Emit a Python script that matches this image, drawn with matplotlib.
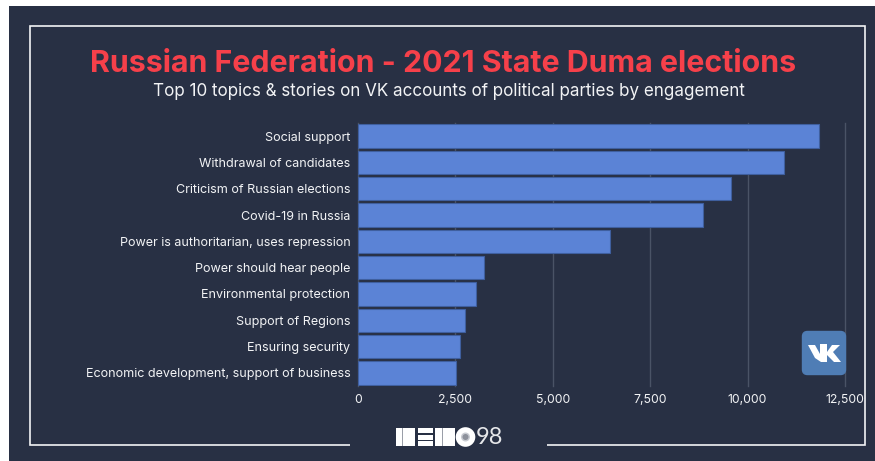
import matplotlib
matplotlib.use("Agg")
import matplotlib.pyplot as plt
from matplotlib.patches import Rectangle, FancyBboxPatch, Circle, Polygon

categories = ["Social support", "Withdrawal of candidates", "Criticism of Russian elections",
              "Covid-19 in Russia", "Power is authoritarian, uses repression", "Power should hear people",
              "Environmental protection", "Support of Regions", "Ensuring security",
              "Economic development, support of business"]
values = [11830, 10930, 9570, 8850, 6470, 3230, 3030, 2750, 2620, 2510]
ticks = [0, 2500, 5000, 7500, 10000, 12500]
title = "Russian Federation - 2021 State Duma elections"
subtitle = "Top 10 topics & stories on VK accounts of political parties by engagement"

W, H = 875, 461
BG, FG = "#283044", "#f2f3f5"
plt.rcParams["font.family"] = ["Inter", "DejaVu Sans"]
fig = plt.figure(figsize=(W/100, H/100), dpi=100, facecolor="white")

# overlay in pixel coordinates
ov = fig.add_axes([0, 0, 1, 1])
ov.set_xlim(0, W); ov.set_ylim(H, 0); ov.axis("off")
ov.add_patch(Rectangle((9, 6), W-9, H-6, fc=BG, ec="none"))
ov.plot([350, 30, 30, 865, 865, 547], [445, 445, 26, 26, 445, 445], color=FG, lw=1.2,
        solid_capstyle="butt", solid_joinstyle="miter")
ov.text(443.5, 64, title, color="#f6404a", fontsize=21.85, fontweight="bold", ha="center", va="center")
ov.text(448.5, 91, subtitle, color=FG, fontsize=12.25, ha="center", va="center")

# main axes
ax = fig.add_axes([358/W, 1-386/H, (845-358)/W, (386-123)/H], facecolor="none")
ax.barh(categories, values, height=0.89, color="#5b83d6", edgecolor="#3f5f9f", linewidth=0.8, zorder=3)
ax.set_xlim(0, 12500)
ax.set_ylim(9.5, -0.5)
ax.set_xticks(ticks, [f"{t:,}" for t in ticks])
ax.grid(axis="x", color="#4a5366", lw=1, zorder=0, clip_on=False)
ax.tick_params(axis="x", length=0, colors=FG, labelsize=8.8, pad=6)
ax.tick_params(axis="y", length=0, colors=FG, labelsize=9.05, pad=5.5)
for s in ax.spines.values():
    s.set_visible(False)

# VK badge
ov2 = fig.add_axes([0, 0, 1, 1], facecolor="none", zorder=5)
ov2.set_xlim(0, W); ov2.set_ylim(H, 0); ov2.axis("off")
ov2.add_patch(FancyBboxPatch((802.5, 331.5), 43, 43, boxstyle="round,pad=0,rounding_size=5", fc="#4f7db5", ec="#4f7db5", lw=1))
ov2.add_patch(Polygon([(808, 345), (815, 345), (820, 354), (820, 344), (827, 344), (827, 352), (832, 345),
                       (840, 345), (833, 352), (841, 362), (834, 362), (827, 355), (827, 362), (821, 362), (815, 358)],
                      fc="white", ec="none"))

# memo98 logo
ov2.add_patch(Rectangle((395.5, 428), 19.5, 18, fc="white", ec="none"))
ov2.add_patch(Rectangle((435, 428), 20, 18, fc="white", ec="none"))
for x0 in (402, 408.5, 442, 448.5):
    ov2.add_patch(Rectangle((x0, 428), 0.7, 18, fc="#9a9ea8", ec="none"))
for y0 in (428, 434.5, 441):
    ov2.add_patch(Rectangle((417.5, y0), 15.5, 5, fc="white", ec="none"))
ov2.add_patch(Circle((465.5, 437), 9.8, fc="white", ec="none"))
ov2.add_patch(Circle((465.5, 437), 4.5, fc="#c9ccd2", ec="none"))
ov2.add_patch(Circle((465.5, 437), 3, fc="#8d919b", ec="none"))
ov2.text(489.5, 437, "98", color="#e6e7ea", fontsize=17, ha="center", va="center", family="Lato")

fig.savefig("out.png", dpi=100, facecolor="white")
